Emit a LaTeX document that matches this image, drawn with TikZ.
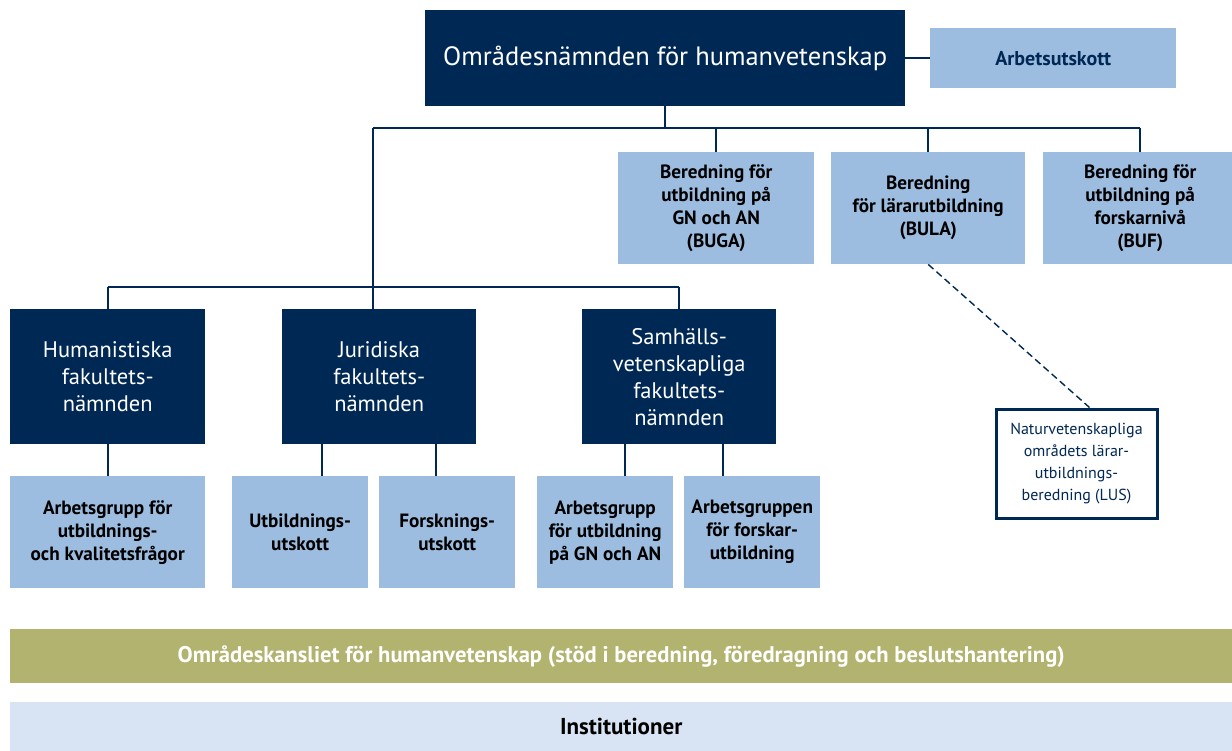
\documentclass[tikz,border=0pt]{standalone}
\usepackage{fontspec}
\setmainfont{PT Sans}
\definecolor{navy}{RGB}{0,40,85}
\definecolor{lblue}{RGB}{157,189,224}
\definecolor{olive}{RGB}{178,179,111}
\definecolor{pale}{RGB}{216,228,243}
\tikzset{
  dark/.style={fill=navy, text=white, inner sep=0pt, align=center, anchor=north west, font=\fontsize{22.5}{27}\selectfont},
  light/.style={fill=lblue, text=black, inner sep=0pt, align=center, anchor=north west, font=\bfseries\fontsize{19.2}{23}\selectfont},
  conn/.style={draw=navy, line width=1.6pt},
  bar/.style={inner sep=0pt, anchor=north west, minimum width=1222pt, font=\bfseries\fontsize{22.6}{25}\selectfont},
}
\begin{document}
\begin{tikzpicture}[x=1pt,y=-1pt]
\useasboundingbox (0,0) rectangle (1232,751);
% top
\node[dark, minimum width=480pt, minimum height=96pt, font=\fontsize{26.5}{30}\selectfont] (top) at (425,10) {Områdesnämnden för humanvetenskap};
\node[light, minimum width=246pt, minimum height=60pt, text=navy, font=\bfseries\fontsize{20}{23}\selectfont] (au) at (930,28) {Arbetsutskott};
\draw[conn] (top.east |- au.west) -- (au.west);
% second level
\node[light, minimum width=196pt, minimum height=112pt] (buga) at (618,152) {Beredning för\\utbildning på\\GN och AN\\(BUGA)};
\node[light, minimum width=194pt, minimum height=112pt] (bula) at (831,152) {Beredning\\för lärarutbildning\\(BULA)};
\node[light, minimum width=194pt, minimum height=112pt] (buf) at (1043,152) {Beredning för\\utbildning på\\forskarnivå\\(BUF)};
\coordinate (hL) at (373,128);
\coordinate (hR) at (1140,128);
\draw[conn] (top.south) -- (top.south |- hL);
\draw[conn] (hL) -- (hR);
\draw[conn] (buga.north |- hL) -- (buga.north);
\draw[conn] (bula.north |- hL) -- (bula.north);
\draw[conn] (hR) -- (hR |- buf.north);
% faculties
\node[dark, minimum width=195pt, minimum height=135pt] (hum) at (10,309) {Humanistiska\\fakultets-\\nämnden};
\node[dark, minimum width=194pt, minimum height=135pt] (jur) at (282,309) {Juridiska\\fakultets-\\nämnden};
\node[dark, minimum width=194pt, minimum height=135pt] (sam) at (582,309) {Samhälls-\\vetenskapliga\\fakultets-\\nämnden};
\coordinate (fL) at (373,287);
\draw[conn] (hL) -- (fL);
\draw[conn] (hum.north |- fL) -- (sam.north |- fL);
\draw[conn] (hum.north |- fL) -- (hum.north);
\draw[conn] (fL) -- (fL |- jur.north);
\draw[conn] (sam.north |- fL) -- (sam.north);
% working groups
\node[light, minimum width=195pt, minimum height=112pt] (ag) at (10,476) {Arbetsgrupp för\\utbildnings-\\och kvalitetsfrågor};
\node[light, minimum width=136pt, minimum height=112pt] (utb) at (232,476) {Utbildnings-\\utskott};
\node[light, minimum width=136pt, minimum height=112pt] (fors) at (379,476) {Forsknings-\\utskott};
\node[light, minimum width=136pt, minimum height=112pt] (agu) at (537,476) {Arbetsgrupp\\för utbildning\\på GN och AN};
\node[light, minimum width=136pt, minimum height=112pt] (agf) at (684,476) {Arbetsgruppen\\för forskar-\\utbildning};
\draw[conn] (hum.south) -- (ag.north);
\draw[conn] (322,0 |- jur.south) -- (322,0 |- utb.north);
\draw[conn] (436,0 |- jur.south) -- (436,0 |- fors.north);
\draw[conn] (625,0 |- sam.south) -- (625,0 |- agu.north);
\draw[conn] (723,0 |- sam.south) -- (723,0 |- agf.north);
% LUS
\node[draw=navy, line width=3pt, fill=white, text=navy, inner sep=0pt, align=center, anchor=north west, minimum width=161pt, minimum height=109pt, font=\fontsize{16}{22}\selectfont] (lus) at (994.5,407.5) {Naturvetenskapliga\\områdets lärar-\\utbildnings-\\beredning (LUS)};
\draw[draw=navy, line width=1.4pt, dash pattern=on 7pt off 4pt] (bula.south) -- ([xshift=13pt]lus.north);
% bars
\node[bar, fill=olive, text=white, minimum height=54pt] (kans) at (10,629) {Områdeskansliet för humanvetenskap (stöd i beredning, föredragning och beslutshantering)};
\node[bar, fill=pale, text=black, minimum height=49pt, font=\bfseries\fontsize{23}{25}\selectfont] (inst) at (10,702) {Institutioner};
\end{tikzpicture}
\end{document}
